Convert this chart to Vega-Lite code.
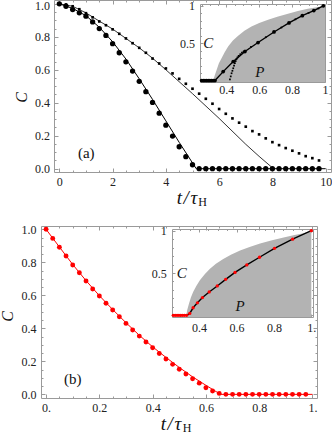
{
"$schema":"https://vega.github.io/schema/vega-lite/v6.json",
"width":332,"height":434,"padding":0,"autosize":{"type":"none"},
"background":"white",
"config":{"view":{"stroke":null},
"axis":{"grid":false,"zindex":1,"domainColor":"#9a9a9a","tickColor":"#9a9a9a","domainWidth":1,"tickWidth":1,"labelFont":"Liberation Serif","labelFontSize":12,"labelColor":"#222222","titleFont":"Liberation Serif","titleFontWeight":"normal","titleColor":"#111111","labelFlush":false,"labelOverlap":false,"labelBound":false}},
"datasets":{
"a_dots":[{"t":0,"C":1.0},{"t":0.25,"C":0.985},{"t":0.5,"C":0.965},{"t":0.75,"C":0.945},{"t":1,"C":0.925},{"t":1.25,"C":0.89},{"t":1.5,"C":0.85},{"t":1.75,"C":0.808},{"t":2,"C":0.758},{"t":2.25,"C":0.703},{"t":2.5,"C":0.648},{"t":2.75,"C":0.592},{"t":3,"C":0.53},{"t":3.25,"C":0.467},{"t":3.5,"C":0.402},{"t":3.75,"C":0.337},{"t":4,"C":0.264},{"t":4.25,"C":0.198},{"t":4.5,"C":0.133},{"t":4.75,"C":0.073},{"t":5,"C":0.024},{"t":5.25,"C":0},{"t":5.5,"C":0},{"t":5.75,"C":0},{"t":6,"C":0},{"t":6.25,"C":0},{"t":6.5,"C":0},{"t":6.75,"C":0},{"t":7,"C":0},{"t":7.25,"C":0},{"t":7.5,"C":0},{"t":7.75,"C":0},{"t":8,"C":0},{"t":8.25,"C":0},{"t":8.5,"C":0},{"t":8.75,"C":0},{"t":9,"C":0},{"t":9.25,"C":0},{"t":9.5,"C":0},{"t":9.75,"C":0}],
"a_sq":[{"t":0,"C":1.0},{"t":0.25,"C":0.996},{"t":0.5,"C":0.985},{"t":0.75,"C":0.967},{"t":1,"C":0.943},{"t":1.25,"C":0.918},{"t":1.5,"C":0.893},{"t":1.75,"C":0.87},{"t":2,"C":0.845},{"t":2.25,"C":0.818},{"t":2.5,"C":0.79},{"t":2.75,"C":0.761},{"t":3,"C":0.733},{"t":3.25,"C":0.703},{"t":3.5,"C":0.668},{"t":3.75,"C":0.638},{"t":4,"C":0.608},{"t":4.25,"C":0.578},{"t":4.5,"C":0.545},{"t":4.75,"C":0.515},{"t":5,"C":0.485},{"t":5.25,"C":0.455},{"t":5.5,"C":0.424},{"t":5.75,"C":0.394},{"t":6,"C":0.362},{"t":6.25,"C":0.333},{"t":6.5,"C":0.305},{"t":6.75,"C":0.279},{"t":7,"C":0.255},{"t":7.25,"C":0.228},{"t":7.5,"C":0.208},{"t":7.75,"C":0.184},{"t":8,"C":0.161},{"t":8.25,"C":0.143},{"t":8.5,"C":0.125},{"t":8.75,"C":0.109},{"t":9,"C":0.093},{"t":9.25,"C":0.076},{"t":9.5,"C":0.064},{"t":9.75,"C":0.05}],
"a_l1":[{"t":0,"C":1},{"t":0.5,"C":0.972},{"t":1,"C":0.928},{"t":1.5,"C":0.858},{"t":2,"C":0.77},{"t":2.5,"C":0.665},{"t":3,"C":0.545},{"t":3.5,"C":0.42},{"t":4,"C":0.29},{"t":4.5,"C":0.16},{"t":5,"C":0.035},{"t":5.14,"C":0},{"t":10,"C":0}],
"a_l2":[{"t":0,"C":1},{"t":0.5,"C":0.985},{"t":1,"C":0.945},{"t":1.5,"C":0.895},{"t":2,"C":0.847},{"t":2.5,"C":0.79},{"t":3,"C":0.733},{"t":3.5,"C":0.67},{"t":4,"C":0.6},{"t":5,"C":0.455},{"t":6,"C":0.305},{"t":7,"C":0.148},{"t":7.5,"C":0.075},{"t":8.04,"C":0}],
"ai_area":[{"P":0.32,"C":0},{"P":0.33,"C":0.07},{"P":0.341,"C":0.142},{"P":0.355,"C":0.23},{"P":0.371,"C":0.299},{"P":0.39,"C":0.38},{"P":0.411,"C":0.455},{"P":0.44,"C":0.535},{"P":0.472,"C":0.6},{"P":0.51,"C":0.665},{"P":0.553,"C":0.725},{"P":0.6,"C":0.77},{"P":0.654,"C":0.815},{"P":0.71,"C":0.855},{"P":0.775,"C":0.896},{"P":0.835,"C":0.93},{"P":0.896,"C":0.96},{"P":0.95,"C":0.98},{"P":1.0,"C":1.0}],
"ai_line":[{"P":0.24,"C":0},{"P":0.331,"C":0},{"P":0.381,"C":0.119},{"P":0.442,"C":0.253},{"P":0.513,"C":0.388},{"P":0.593,"C":0.509},{"P":0.69,"C":0.65},{"P":0.781,"C":0.771},{"P":0.862,"C":0.869},{"P":0.932,"C":0.937},{"P":0.99,"C":1.0}],
"ai_dots":[{"P":0.25,"C":0},{"P":0.26,"C":0},{"P":0.27,"C":0},{"P":0.28,"C":0},{"P":0.29,"C":0},{"P":0.30,"C":0},{"P":0.31,"C":0},{"P":0.32,"C":0},{"P":0.331,"C":0},{"P":0.381,"C":0.119},{"P":0.442,"C":0.253},{"P":0.513,"C":0.388},{"P":0.593,"C":0.509},{"P":0.69,"C":0.65},{"P":0.781,"C":0.771},{"P":0.862,"C":0.869},{"P":0.932,"C":0.937},{"P":0.99,"C":1.0}],
"ai_dotted":[{"P":0.422,"C":0.016},{"P":0.427,"C":0.055},{"P":0.432,"C":0.097},{"P":0.437,"C":0.13},{"P":0.442,"C":0.164},{"P":0.447,"C":0.2},{"P":0.452,"C":0.232},{"P":0.457,"C":0.26},{"P":0.462,"C":0.286},{"P":0.468,"C":0.31},{"P":0.475,"C":0.33},{"P":0.485,"C":0.352},{"P":0.495,"C":0.372},{"P":0.505,"C":0.387},{"P":0.515,"C":0.4},{"P":0.55,"C":0.45},{"P":0.593,"C":0.509},{"P":0.64,"C":0.58},{"P":0.69,"C":0.65},{"P":0.735,"C":0.71},{"P":0.781,"C":0.771},{"P":0.82,"C":0.82},{"P":0.862,"C":0.869},{"P":0.9,"C":0.905},{"P":0.932,"C":0.937},{"P":0.96,"C":0.965},{"P":0.99,"C":1.0}],
"b_dots":[{"t":0,"C":1.0},{"t":0.025,"C":0.945},{"t":0.05,"C":0.891},{"t":0.075,"C":0.838},{"t":0.1,"C":0.784},{"t":0.125,"C":0.737},{"t":0.15,"C":0.687},{"t":0.175,"C":0.638},{"t":0.2,"C":0.596},{"t":0.225,"C":0.552},{"t":0.25,"C":0.511},{"t":0.275,"C":0.47},{"t":0.3,"C":0.43},{"t":0.325,"C":0.39},{"t":0.35,"C":0.353},{"t":0.375,"C":0.317},{"t":0.4,"C":0.282},{"t":0.425,"C":0.248},{"t":0.45,"C":0.214},{"t":0.475,"C":0.182},{"t":0.5,"C":0.152},{"t":0.525,"C":0.123},{"t":0.55,"C":0.095},{"t":0.575,"C":0.068},{"t":0.6,"C":0.04},{"t":0.625,"C":0.02},{"t":0.65,"C":0.006},{"t":0.675,"C":0},{"t":0.7,"C":0},{"t":0.725,"C":0},{"t":0.75,"C":0},{"t":0.775,"C":0},{"t":0.8,"C":0},{"t":0.825,"C":0},{"t":0.85,"C":0},{"t":0.875,"C":0},{"t":0.9,"C":0},{"t":0.925,"C":0},{"t":0.95,"C":0},{"t":0.975,"C":0}],
"b_line":[{"t":0,"C":1},{"t":0.05,"C":0.893},{"t":0.1,"C":0.787},{"t":0.15,"C":0.689},{"t":0.2,"C":0.598},{"t":0.25,"C":0.514},{"t":0.3,"C":0.434},{"t":0.35,"C":0.358},{"t":0.4,"C":0.288},{"t":0.45,"C":0.224},{"t":0.5,"C":0.163},{"t":0.55,"C":0.106},{"t":0.6,"C":0.055},{"t":0.63,"C":0.025},{"t":0.655,"C":0},{"t":1.0,"C":0}],
"bi_area":[{"P":0.332,"C":0},{"P":0.336,"C":0.06},{"P":0.346,"C":0.139},{"P":0.356,"C":0.21},{"P":0.368,"C":0.276},{"P":0.385,"C":0.345},{"P":0.404,"C":0.413},{"P":0.43,"C":0.485},{"P":0.458,"C":0.549},{"P":0.49,"C":0.61},{"P":0.529,"C":0.666},{"P":0.57,"C":0.715},{"P":0.619,"C":0.765},{"P":0.67,"C":0.808},{"P":0.726,"C":0.85},{"P":0.79,"C":0.888},{"P":0.852,"C":0.92},{"P":0.91,"C":0.948},{"P":0.959,"C":0.971},{"P":1.0,"C":1.0}],
"bi_line":[{"P":0.255,"C":0},{"P":0.333,"C":0},{"P":0.35,"C":0.022},{"P":0.368,"C":0.089},{"P":0.391,"C":0.148},{"P":0.418,"C":0.21},{"P":0.454,"C":0.276},{"P":0.497,"C":0.347},{"P":0.542,"C":0.425},{"P":0.592,"C":0.507},{"P":0.655,"C":0.596},{"P":0.723,"C":0.686},{"P":0.803,"C":0.792},{"P":0.9,"C":0.9},{"P":1.0,"C":1.0}],
"bi_dots":[{"P":0.262,"C":0},{"P":0.272,"C":0},{"P":0.282,"C":0},{"P":0.292,"C":0},{"P":0.302,"C":0},{"P":0.312,"C":0},{"P":0.322,"C":0},{"P":0.333,"C":0},{"P":0.35,"C":0.022},{"P":0.368,"C":0.089},{"P":0.391,"C":0.148},{"P":0.418,"C":0.21},{"P":0.454,"C":0.276},{"P":0.497,"C":0.347},{"P":0.542,"C":0.425},{"P":0.592,"C":0.507},{"P":0.655,"C":0.596},{"P":0.723,"C":0.686},{"P":0.803,"C":0.792},{"P":0.9,"C":0.9},{"P":1.0,"C":1.0}]
},
"layer":[
{"data":{"name":"a_l2"},"mark":{"type":"line","color":"#000","strokeWidth":0.8},"encoding":{"x":{"field":"t","type":"quantitative","scale":{"domain":[-0.2,10.2],"range":[54,331],"nice":false,"zero":false},"axis":null},"y":{"field":"C","type":"quantitative","scale":{"domain":[-0.02,1.023],"range":[172,0],"nice":false,"zero":false},"axis":null}}},
{"data":{"name":"a_l1"},"mark":{"type":"line","color":"#000","strokeWidth":1},"encoding":{"x":{"field":"t","type":"quantitative","scale":{"domain":[-0.2,10.2],"range":[54,331],"nice":false,"zero":false},"axis":null},"y":{"field":"C","type":"quantitative","scale":{"domain":[-0.02,1.023],"range":[172,0],"nice":false,"zero":false},"axis":null}}},
{"data":{"name":"a_sq"},"mark":{"type":"point","shape":"square","filled":true,"color":"#000","size":7,"opacity":1},"encoding":{"x":{"field":"t","type":"quantitative","scale":{"domain":[-0.2,10.2],"range":[54,331],"nice":false,"zero":false},"axis":null},"y":{"field":"C","type":"quantitative","scale":{"domain":[-0.02,1.023],"range":[172,0],"nice":false,"zero":false},"axis":null}}},
{"data":{"name":"a_dots"},"mark":{"type":"circle","color":"#000","size":28,"opacity":1},"encoding":{"x":{"field":"t","type":"quantitative","scale":{"domain":[-0.2,10.2],"range":[54,331],"nice":false,"zero":false},"axis":null},"y":{"field":"C","type":"quantitative","scale":{"domain":[-0.02,1.023],"range":[172,0],"nice":false,"zero":false},"axis":null}}},
{"data":{"values":[{}]},"mark":{"type":"text","text":"(a)","font":"Liberation Serif","fontSize":15,"align":"center","baseline":"middle","color":"#111"},"encoding":{"x":{"datum":1.01,"type":"quantitative","scale":{"domain":[-0.2,10.2],"range":[54,331],"nice":false,"zero":false},"axis":null},"y":{"datum":0.095,"type":"quantitative","scale":{"domain":[-0.02,1.023],"range":[172,0],"nice":false,"zero":false},"axis":null}}},
{"data":{"values":[{}]},"mark":{"type":"text","text":"H","font":"Liberation Serif","fontSize":12,"align":"center","baseline":"alphabetic","color":"#111"},"encoding":{"x":{"datum":5.376,"type":"quantitative","scale":{"domain":[-0.2,10.2],"range":[54,331],"nice":false,"zero":false},"axis":null},"y":{"datum":-0.226,"type":"quantitative","scale":{"domain":[-0.02,1.023],"range":[172,0],"nice":false,"zero":false},"axis":null}}},

{"data":{"name":"ai_area"},"mark":{"type":"area","color":"#b3b3b3","opacity":1},"encoding":{"x":{"field":"P","type":"quantitative","scale":{"domain":[0.24,1.0],"range":[200,325],"nice":false,"zero":false},"axis":null},"y":{"field":"C","type":"quantitative","scale":{"domain":[-0.02,1.025],"range":[82,4],"nice":false,"zero":false},"axis":null},"y2":{"datum":-0.02}}},
{"data":{"name":"ai_dotted"},"mark":{"type":"point","shape":"square","filled":true,"color":"#000","size":3,"opacity":1},"encoding":{"x":{"field":"P","type":"quantitative","scale":{"domain":[0.24,1.0],"range":[200,325],"nice":false,"zero":false},"axis":null},"y":{"field":"C","type":"quantitative","scale":{"domain":[-0.02,1.025],"range":[82,4],"nice":false,"zero":false},"axis":null}}},
{"data":{"name":"ai_line"},"mark":{"type":"line","color":"#000","strokeWidth":1.4},"encoding":{"x":{"field":"P","type":"quantitative","scale":{"domain":[0.24,1.0],"range":[200,325],"nice":false,"zero":false},"axis":null},"y":{"field":"C","type":"quantitative","scale":{"domain":[-0.02,1.025],"range":[82,4],"nice":false,"zero":false},"axis":null}}},
{"data":{"name":"ai_dots"},"mark":{"type":"circle","color":"#000","size":14,"opacity":1},"encoding":{"x":{"field":"P","type":"quantitative","scale":{"domain":[0.24,1.0],"range":[200,325],"nice":false,"zero":false},"axis":null},"y":{"field":"C","type":"quantitative","scale":{"domain":[-0.02,1.025],"range":[82,4],"nice":false,"zero":false},"axis":null}}},
{"data":{"values":[{}]},"mark":{"type":"text","text":"C","font":"Liberation Serif","fontStyle":"italic","fontSize":15,"align":"center","baseline":"middle","color":"#111"},"encoding":{"x":{"datum":0.29,"type":"quantitative","scale":{"domain":[0.24,1.0],"range":[200,325],"nice":false,"zero":false},"axis":null},"y":{"datum":0.5,"type":"quantitative","scale":{"domain":[-0.02,1.025],"range":[82,4],"nice":false,"zero":false},"axis":null}}},
{"data":{"values":[{}]},"mark":{"type":"text","text":"P","font":"Liberation Serif","fontStyle":"italic","fontSize":15,"align":"center","baseline":"middle","color":"#111"},"encoding":{"x":{"datum":0.604,"type":"quantitative","scale":{"domain":[0.24,1.0],"range":[200,325],"nice":false,"zero":false},"axis":null},"y":{"datum":0.118,"type":"quantitative","scale":{"domain":[-0.02,1.025],"range":[82,4],"nice":false,"zero":false},"axis":null}}},

{"data":{"name":"b_line"},"mark":{"type":"line","color":"#ff0000","strokeWidth":1},"encoding":{"x":{"field":"t","type":"quantitative","scale":{"domain":[-0.019,1.017],"range":[41,317],"nice":false,"zero":false},"axis":null},"y":{"field":"C","type":"quantitative","scale":{"domain":[-0.022,1.02],"range":[398,226],"nice":false,"zero":false},"axis":null}}},
{"data":{"name":"b_dots"},"mark":{"type":"circle","color":"#ff0000","size":24,"opacity":1},"encoding":{"x":{"field":"t","type":"quantitative","scale":{"domain":[-0.019,1.017],"range":[41,317],"nice":false,"zero":false},"axis":null},"y":{"field":"C","type":"quantitative","scale":{"domain":[-0.022,1.02],"range":[398,226],"nice":false,"zero":false},"axis":null}}},
{"data":{"values":[{}]},"mark":{"type":"text","text":"(b)","font":"Liberation Serif","fontSize":15,"align":"center","baseline":"middle","color":"#111"},"encoding":{"x":{"datum":0.1,"type":"quantitative","scale":{"domain":[-0.019,1.017],"range":[41,317],"nice":false,"zero":false},"axis":null},"y":{"datum":0.093,"type":"quantitative","scale":{"domain":[-0.022,1.02],"range":[398,226],"nice":false,"zero":false},"axis":null}}},
{"data":{"values":[{}]},"mark":{"type":"text","text":"H","font":"Liberation Serif","fontSize":12,"align":"center","baseline":"alphabetic","color":"#111"},"encoding":{"x":{"datum":0.529,"type":"quantitative","scale":{"domain":[-0.019,1.017],"range":[41,317],"nice":false,"zero":false},"axis":null},"y":{"datum":-0.225,"type":"quantitative","scale":{"domain":[-0.022,1.02],"range":[398,226],"nice":false,"zero":false},"axis":null}}},

{"data":{"name":"bi_area"},"mark":{"type":"area","color":"#b3b3b3","opacity":1},"encoding":{"x":{"field":"P","type":"quantitative","scale":{"domain":[0.255,1.009],"range":[172,313],"nice":false,"zero":false},"axis":null},"y":{"field":"C","type":"quantitative","scale":{"domain":[-0.02,1.02],"range":[317,229],"nice":false,"zero":false},"axis":null},"y2":{"datum":-0.02}}},
{"data":{"name":"bi_line"},"mark":{"type":"line","color":"#000","strokeWidth":1.4},"encoding":{"x":{"field":"P","type":"quantitative","scale":{"domain":[0.255,1.009],"range":[172,313],"nice":false,"zero":false},"axis":null},"y":{"field":"C","type":"quantitative","scale":{"domain":[-0.02,1.02],"range":[317,229],"nice":false,"zero":false},"axis":null}}},
{"data":{"name":"bi_dots"},"mark":{"type":"circle","color":"#ff0000","size":11,"opacity":1},"encoding":{"x":{"field":"P","type":"quantitative","scale":{"domain":[0.255,1.009],"range":[172,313],"nice":false,"zero":false},"axis":null},"y":{"field":"C","type":"quantitative","scale":{"domain":[-0.02,1.02],"range":[317,229],"nice":false,"zero":false},"axis":null}}},
{"data":{"values":[{}]},"mark":{"type":"text","text":"C","font":"Liberation Serif","fontStyle":"italic","fontSize":15,"align":"center","baseline":"middle","color":"#111"},"encoding":{"x":{"datum":0.307,"type":"quantitative","scale":{"domain":[0.255,1.009],"range":[172,313],"nice":false,"zero":false},"axis":null},"y":{"datum":0.5,"type":"quantitative","scale":{"domain":[-0.02,1.02],"range":[317,229],"nice":false,"zero":false},"axis":null}}},
{"data":{"values":[{}]},"mark":{"type":"text","text":"P","font":"Liberation Serif","fontStyle":"italic","fontSize":15,"align":"center","baseline":"middle","color":"#111"},"encoding":{"x":{"datum":0.619,"type":"quantitative","scale":{"domain":[0.255,1.009],"range":[172,313],"nice":false,"zero":false},"axis":null},"y":{"datum":0.106,"type":"quantitative","scale":{"domain":[-0.02,1.02],"range":[317,229],"nice":false,"zero":false},"axis":null}}},

{"data":{"values":[{}]},"mark":{"type":"point","opacity":0},"encoding":{"x":{"datum":1,"type":"quantitative","scale":{"domain":[-0.2,10.2],"range":[54,331],"nice":false,"zero":false},"axis":{"orient":"bottom","offset":-262,"values":[0,2,4,6,8,10],"format":"d","tickSize":-4,"labelPadding":8.5,"title":"t\u200a/\u200aτ","titleFontStyle":"italic","titleFontSize":19,"titleX":186.5,"titleY":31,"titleAlign":"center","titleBaseline":"alphabetic"}},"y":{"datum":0.5,"type":"quantitative","scale":{"domain":[-0.02,1.023],"range":[172,0],"nice":false,"zero":false},"axis":{"orient":"left","offset":-54,"values":[0,0.2,0.4,0.6,0.8,1],"format":".1f","labelOffset":{"condition":{"test":"datum.value == 1","value":2},"value":0},"tickSize":-4,"labelPadding":8.5,"title":"C","titleFontStyle":"italic","titleFontSize":16,"titleX":-33,"titleY":97,"titleAngle":-90,"titleAlign":"center","titleBaseline":"middle"}}}},
{"data":{"values":[{}]},"mark":{"type":"point","opacity":0},"encoding":{"x":{"datum":1,"type":"quantitative","scale":{"domain":[-0.2,10.2],"range":[54,331],"nice":false,"zero":false},"axis":{"orient":"bottom","offset":-262,"values":[0.5,1,1.5,2.5,3,3.5,4.5,5,5.5,6.5,7,7.5,8.5,9,9.5],"labels":false,"domain":false,"tickSize":-2,"title":null}},"y":{"datum":0.5,"type":"quantitative","scale":{"domain":[-0.02,1.023],"range":[172,0],"nice":false,"zero":false},"axis":{"orient":"left","offset":-54,"values":[0.05,0.1,0.15,0.25,0.3,0.35,0.45,0.5,0.55,0.65,0.7,0.75,0.85,0.9,0.95],"labels":false,"domain":false,"tickSize":-2,"title":null}}}},
{"data":{"values":[{}]},"mark":{"type":"point","opacity":0},"encoding":{"x":{"datum":1,"type":"quantitative","scale":{"domain":[-0.2,10.2],"range":[54,331],"nice":false,"zero":false},"axis":{"orient":"top","offset":0,"values":[0,2,4,6,8,10],"labels":false,"tickSize":-4,"title":null}},"y":{"datum":0.5,"type":"quantitative","scale":{"domain":[-0.02,1.023],"range":[172,0],"nice":false,"zero":false},"axis":{"orient":"right","offset":-1,"values":[0,0.2,0.4,0.6,0.8,1],"labels":false,"tickSize":-4,"title":null}}}},
{"data":{"values":[{}]},"mark":{"type":"point","opacity":0},"encoding":{"x":{"datum":1,"type":"quantitative","scale":{"domain":[-0.2,10.2],"range":[54,331],"nice":false,"zero":false},"axis":{"orient":"top","offset":0,"values":[0.5,1,1.5,2.5,3,3.5,4.5,5,5.5,6.5,7,7.5,8.5,9,9.5],"labels":false,"domain":false,"tickSize":-2,"title":null}},"y":{"datum":0.5,"type":"quantitative","scale":{"domain":[-0.02,1.023],"range":[172,0],"nice":false,"zero":false},"axis":{"orient":"right","offset":-1,"values":[0.05,0.1,0.15,0.25,0.3,0.35,0.45,0.5,0.55,0.65,0.7,0.75,0.85,0.9,0.95],"labels":false,"domain":false,"tickSize":-2,"title":null}}}},

{"data":{"values":[{}]},"mark":{"type":"point","opacity":0},"encoding":{"x":{"datum":0.5,"type":"quantitative","scale":{"domain":[0.24,1.0],"range":[200,325],"nice":false,"zero":false},"axis":{"orient":"bottom","offset":-352,"values":[0.4,0.6,0.8,1],"labelExpr":"datum.value == 1 ? '1' : format(datum.value, '.1f')","tickSize":-3,"labelPadding":5.5,"title":null}},"y":{"datum":0.5,"type":"quantitative","scale":{"domain":[-0.02,1.025],"range":[82,4],"nice":false,"zero":false},"axis":{"orient":"left","offset":-200,"values":[0.5,1],"labelExpr":"datum.value == 1 ? '1' : format(datum.value, '.1f')","tickSize":-3,"labelPadding":8.5,"title":null}}}},
{"data":{"values":[{}]},"mark":{"type":"point","opacity":0},"encoding":{"x":{"datum":0.5,"type":"quantitative","scale":{"domain":[0.24,1.0],"range":[200,325],"nice":false,"zero":false},"axis":{"orient":"bottom","offset":-352,"values":[0.25,0.3,0.35,0.45,0.5,0.55,0.65,0.7,0.75,0.85,0.9,0.95],"labels":false,"domain":false,"tickSize":-1.5,"title":null}},"y":{"datum":0.5,"type":"quantitative","scale":{"domain":[-0.02,1.025],"range":[82,4],"nice":false,"zero":false},"axis":{"orient":"left","offset":-200,"values":[0,0.1,0.2,0.3,0.4,0.6,0.7,0.8,0.9],"labels":false,"domain":false,"tickSize":-1.5,"title":null}}}},
{"data":{"values":[{}]},"mark":{"type":"point","opacity":0},"encoding":{"x":{"datum":0.5,"type":"quantitative","scale":{"domain":[0.24,1.0],"range":[200,325],"nice":false,"zero":false},"axis":{"orient":"top","offset":-4,"values":[0.4,0.6,0.8,1],"labels":false,"tickSize":-3,"title":null}},"y":{"datum":0.5,"type":"quantitative","scale":{"domain":[-0.02,1.025],"range":[82,4],"nice":false,"zero":false},"axis":{"orient":"right","offset":-7,"values":[0.5,1],"labels":false,"tickSize":-3,"title":null}}}},
{"data":{"values":[{}]},"mark":{"type":"point","opacity":0},"encoding":{"x":{"datum":0.5,"type":"quantitative","scale":{"domain":[0.24,1.0],"range":[200,325],"nice":false,"zero":false},"axis":{"orient":"top","offset":-4,"values":[0.25,0.3,0.35,0.45,0.5,0.55,0.65,0.7,0.75,0.85,0.9,0.95],"labels":false,"domain":false,"tickSize":-1.5,"title":null}},"y":{"datum":0.5,"type":"quantitative","scale":{"domain":[-0.02,1.025],"range":[82,4],"nice":false,"zero":false},"axis":{"orient":"right","offset":-7,"values":[0,0.1,0.2,0.3,0.4,0.6,0.7,0.8,0.9],"labels":false,"domain":false,"tickSize":-1.5,"title":null}}}},

{"data":{"values":[{}]},"mark":{"type":"point","opacity":0},"encoding":{"x":{"datum":0.5,"type":"quantitative","scale":{"domain":[-0.019,1.017],"range":[41,317],"nice":false,"zero":false},"axis":{"orient":"bottom","offset":-36,"values":[0,0.2,0.4,0.6,0.8,1],"labelExpr":"datum.value == 0 ? '0.' : datum.value == 1 ? '1.' : format(datum.value, '.1f')","tickSize":-4,"labelPadding":8,"title":"t\u200a/\u200aτ","titleFontStyle":"italic","titleFontSize":19,"titleX":170.5,"titleY":31.5,"titleAlign":"center","titleBaseline":"alphabetic"}},"y":{"datum":0.5,"type":"quantitative","scale":{"domain":[-0.022,1.02],"range":[398,226],"nice":false,"zero":false},"axis":{"orient":"left","offset":-41,"values":[0,0.2,0.4,0.6,0.8,1],"format":".1f","tickSize":-4,"labelPadding":9,"title":"C","titleFontStyle":"italic","titleFontSize":16,"titleX":-33.5,"titleY":316,"titleAngle":-90,"titleAlign":"center","titleBaseline":"middle"}}}},
{"data":{"values":[{}]},"mark":{"type":"point","opacity":0},"encoding":{"x":{"datum":0.5,"type":"quantitative","scale":{"domain":[-0.019,1.017],"range":[41,317],"nice":false,"zero":false},"axis":{"orient":"bottom","offset":-36,"values":[0.05,0.1,0.15,0.25,0.3,0.35,0.45,0.5,0.55,0.65,0.7,0.75,0.85,0.9,0.95],"labels":false,"domain":false,"tickSize":-2,"title":null}},"y":{"datum":0.5,"type":"quantitative","scale":{"domain":[-0.022,1.02],"range":[398,226],"nice":false,"zero":false},"axis":{"orient":"left","offset":-41,"values":[0.05,0.1,0.15,0.25,0.3,0.35,0.45,0.5,0.55,0.65,0.7,0.75,0.85,0.9,0.95],"labels":false,"domain":false,"tickSize":-2,"title":null}}}},
{"data":{"values":[{}]},"mark":{"type":"point","opacity":0},"encoding":{"x":{"datum":0.5,"type":"quantitative","scale":{"domain":[-0.019,1.017],"range":[41,317],"nice":false,"zero":false},"axis":{"orient":"top","offset":-226,"values":[0,0.2,0.4,0.6,0.8,1],"labels":false,"tickSize":-4,"title":null}},"y":{"datum":0.5,"type":"quantitative","scale":{"domain":[-0.022,1.02],"range":[398,226],"nice":false,"zero":false},"axis":{"orient":"right","offset":-15,"values":[0,0.2,0.4,0.6,0.8,1],"labels":false,"tickSize":-4,"title":null}}}},
{"data":{"values":[{}]},"mark":{"type":"point","opacity":0},"encoding":{"x":{"datum":0.5,"type":"quantitative","scale":{"domain":[-0.019,1.017],"range":[41,317],"nice":false,"zero":false},"axis":{"orient":"top","offset":-226,"values":[0.05,0.1,0.15,0.25,0.3,0.35,0.45,0.5,0.55,0.65,0.7,0.75,0.85,0.9,0.95],"labels":false,"domain":false,"tickSize":-2,"title":null}},"y":{"datum":0.5,"type":"quantitative","scale":{"domain":[-0.022,1.02],"range":[398,226],"nice":false,"zero":false},"axis":{"orient":"right","offset":-15,"values":[0.05,0.1,0.15,0.25,0.3,0.35,0.45,0.5,0.55,0.65,0.7,0.75,0.85,0.9,0.95],"labels":false,"domain":false,"tickSize":-2,"title":null}}}},

{"data":{"values":[{}]},"mark":{"type":"point","opacity":0},"encoding":{"x":{"datum":0.5,"type":"quantitative","scale":{"domain":[0.255,1.009],"range":[172,313],"nice":false,"zero":false},"axis":{"orient":"bottom","offset":-117,"values":[0.4,0.6,0.8,1],"labelExpr":"datum.value == 1 ? '1.' : format(datum.value, '.1f')","tickSize":-3,"labelPadding":8,"title":null}},"y":{"datum":0.5,"type":"quantitative","scale":{"domain":[-0.02,1.02],"range":[317,229],"nice":false,"zero":false},"axis":{"orient":"left","offset":-172,"values":[0.5,1],"labelExpr":"datum.value == 1 ? '1' : format(datum.value, '.1f')","tickSize":-3,"labelPadding":8.8,"title":null}}}},
{"data":{"values":[{}]},"mark":{"type":"point","opacity":0},"encoding":{"x":{"datum":0.5,"type":"quantitative","scale":{"domain":[0.255,1.009],"range":[172,313],"nice":false,"zero":false},"axis":{"orient":"bottom","offset":-117,"values":[0.3,0.35,0.45,0.5,0.55,0.65,0.7,0.75,0.85,0.9,0.95],"labels":false,"domain":false,"tickSize":-1.5,"title":null}},"y":{"datum":0.5,"type":"quantitative","scale":{"domain":[-0.02,1.02],"range":[317,229],"nice":false,"zero":false},"axis":{"orient":"left","offset":-172,"values":[0,0.1,0.2,0.3,0.4,0.6,0.7,0.8,0.9],"labels":false,"domain":false,"tickSize":-1.5,"title":null}}}},
{"data":{"values":[{}]},"mark":{"type":"point","opacity":0},"encoding":{"x":{"datum":0.5,"type":"quantitative","scale":{"domain":[0.255,1.009],"range":[172,313],"nice":false,"zero":false},"axis":{"orient":"top","offset":-229,"values":[0.4,0.6,0.8,1],"labels":false,"tickSize":-3,"title":null}},"y":{"datum":0.5,"type":"quantitative","scale":{"domain":[-0.02,1.02],"range":[317,229],"nice":false,"zero":false},"axis":{"orient":"right","offset":-19,"values":[0.5,1],"labels":false,"tickSize":-3,"title":null}}}},
{"data":{"values":[{}]},"mark":{"type":"point","opacity":0},"encoding":{"x":{"datum":0.5,"type":"quantitative","scale":{"domain":[0.255,1.009],"range":[172,313],"nice":false,"zero":false},"axis":{"orient":"top","offset":-229,"values":[0.3,0.35,0.45,0.5,0.55,0.65,0.7,0.75,0.85,0.9,0.95],"labels":false,"domain":false,"tickSize":-1.5,"title":null}},"y":{"datum":0.5,"type":"quantitative","scale":{"domain":[-0.02,1.02],"range":[317,229],"nice":false,"zero":false},"axis":{"orient":"right","offset":-19,"values":[0,0.1,0.2,0.3,0.4,0.6,0.7,0.8,0.9],"labels":false,"domain":false,"tickSize":-1.5,"title":null}}}}
],
"resolve":{"scale":{"x":"independent","y":"independent"},"axis":{"x":"independent","y":"independent"}}
}
